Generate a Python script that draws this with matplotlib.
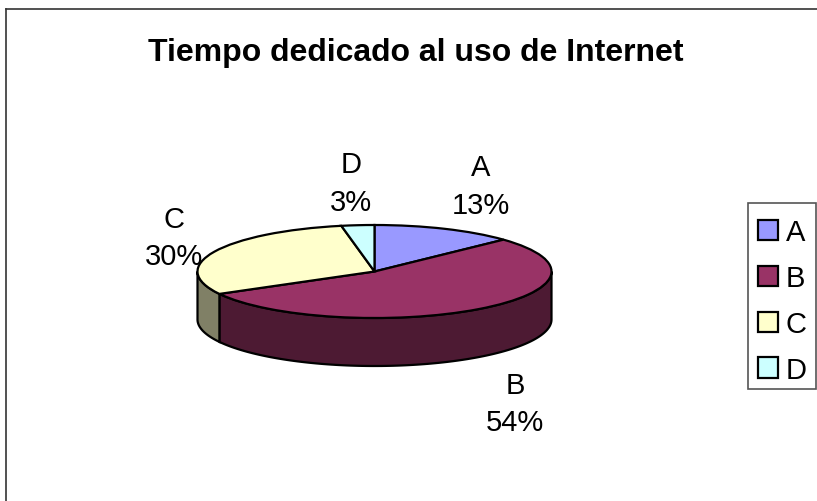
#!/usr/bin/env python3
import numpy as np
import matplotlib
matplotlib.use("Agg")
import matplotlib.pyplot as plt
from matplotlib.patches import Rectangle
from matplotlib.transforms import Affine2D

plt.rcParams["font.family"] = ["Liberation Sans", "DejaVu Sans"]

TITLE = "Tiempo dedicado al uso de Internet"
labels = ["A", "B", "C", "D"]
values = [13, 54, 30, 3]
top_colors = ["#9999FF", "#993366", "#FFFFCC", "#CCFFFF"]
side_colors = ["#4D4D80", "#4D1A33", "#808066", "#668080"]

W, H = 817, 502
CX, CY = 374.5, 272.5      # pie centre in image pixels
RX, RY = 177, 46.5
DEPTH = 48
FONT = 21

fig = plt.figure(figsize=(W / 100, H / 100), dpi=100)
ax = fig.add_axes([6 / W, 0, (W - 6) / W, (H - 10) / H])

# top of the pie, squashed to an ellipse
wedges, _ = ax.pie(values, startangle=90, counterclock=False, colors=top_colors,
                   wedgeprops={"edgecolor": "black", "linewidth": 1.6})
squash = Affine2D().scale(RX, RY).translate(CX, H - CY) + ax.transData
for w in wedges:
    w.set_transform(squash)
    w.set_zorder(3)

# side wall, only the front half of the ellipse shows
edges = 90 - np.cumsum([0] + values) * 3.6
for i in range(len(values)):
    a0, a1 = min(edges[i], 0), max(edges[i + 1], -180)
    if a1 >= a0:
        continue
    t = np.radians(np.linspace(a0, a1, 120))
    x = CX + RX * np.cos(t)
    y = H - CY + RY * np.sin(t)
    ax.fill(np.r_[x, x[::-1]], np.r_[y, y[::-1] - DEPTH], facecolor=side_colors[i],
            edgecolor="black", linewidth=1.6, zorder=2)

ax.set_aspect("auto")
ax.set_xlim(6, W)
ax.set_ylim(0, H - 10)
ax.set_frame_on(True)
ax.set_xticks([])
ax.set_yticks([])
for side in ["right", "bottom"]:
    ax.spines[side].set_visible(False)
for side in ["left", "top"]:
    ax.spines[side].set_color("#333333")
    ax.spines[side].set_linewidth(1.2)

ax.text(415.5, H - 53, TITLE, fontsize=23, fontweight="bold", ha="center", va="center")

label_pos = [(481, 187), (515, 404.5), (174, 238.5), (351, 184)]
for name, v, (px, py) in zip(labels, values, label_pos):
    ax.text(px, H - py, "%s\n%d%%" % (name, v), fontsize=FONT, ha="center", va="center",
            linespacing=1.42, zorder=4)

# legend box drawn apart, the rows sit a bit low inside it
ax.add_patch(Rectangle((748, H - 390), 68, 186, facecolor="white", edgecolor="#555555",
                       linewidth=1.2, zorder=4.5))
leg = ax.legend(wedges, labels, loc="center", bbox_to_anchor=(782, H - 302),
                bbox_transform=ax.transData, fontsize=FONT, frameon=False,
                handlelength=0.69, handleheight=0.69, handletextpad=0.27,
                labelspacing=0.61, borderpad=0.35, borderaxespad=0)
leg.set_zorder(5)

fig.savefig("out.png", dpi=100)
